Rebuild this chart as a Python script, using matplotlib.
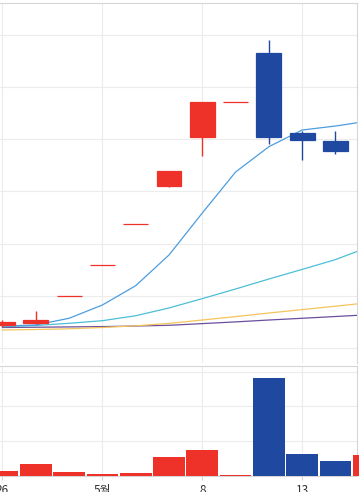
import matplotlib
matplotlib.use("Agg")
import matplotlib.pyplot as plt
import numpy as np

# daily candles, 4/26 -> 5/14 (the last volume/MA point is the next session, cut at the edge)
opens = [1453, 1478, 1995, 2590, 3370, 4103, 5040, 5700, 6646, 5117, 4958]
highs = [1535, 1707, 1995, 2590, 3370, 4390, 5700, 5700, 6902, 5155, 5149]
lows = [1407, 1459, 1995, 2590, 3370, 4088, 4677, 5700, 4914, 4608, 4723]
closes = [1503, 1535, 1995, 2590, 3370, 4390, 5700, 5700, 5040, 4990, 4772]

ma5 = [1426, 1446, 1574, 1828, 2197, 2784, 3587, 4371, 4855, 5174, 5250, 5346]
ma20 = [1413, 1436, 1478, 1528, 1623, 1771, 1950, 2134, 2325, 2509, 2696, 2937]
ma60 = [1350, 1359, 1373, 1398, 1430, 1476, 1541, 1606, 1675, 1740, 1805, 1872]
ma120 = [1398, 1403, 1409, 1415, 1426, 1440, 1472, 1505, 1541, 1574, 1608, 1642]

volume = [1.44, 3.45, 1.15, 0.57, 0.86, 5.46, 7.47, 0.37, 28.2, 6.24, 4.31, 6.03]  # millions
vol_up = [1, 1, 1, 1, 1, 1, 1, 1, 0, 0, 0, 1]

tick_pos = [0, 3, 6, 9]
tick_labels = ["26", "5월", "8", "13"]

RED = "#ee3129"
BLUE = "#1f48a0"
GRID = "#ececec"
EDGE = "#d6d6d6"

fig = plt.figure(figsize=(3.59, 4.92), dpi=100)
ax = fig.add_axes([0, 0.2622, 357 / 359, 0.7323])
axv = fig.add_axes([0, 0.0325, 357 / 359, 0.2236])

xmin, xmax = -0.075, 10.646
for a in (ax, axv):
    a.set_xlim(xmin, xmax)
    a.set_xticks(tick_pos)
    a.grid(True, color=GRID, lw=0.8)
    a.set_axisbelow(True)
    a.spines["left"].set_visible(False)
    for s in ("top", "right", "bottom"):
        a.spines[s].set_color(EDGE)
        a.spines[s].set_linewidth(0.8)
    a.tick_params(axis="y", length=0, labelleft=False)

# price panel
x = np.arange(len(closes))
cols = [RED if c >= o else BLUE for o, c in zip(opens, closes)]
ax.vlines(x, lows, highs, colors=cols, lw=1.0, zorder=3)
bottoms = np.minimum(opens, closes)
heights = np.abs(np.subtract(closes, opens))
ax.bar(x, heights, 0.75, bottom=bottoms, color=cols, edgecolor=cols,
       linewidth=0.9, zorder=4)

xm = np.arange(len(ma5))
ax.plot(xm, ma120, color="#6b4f9e", lw=0.9, zorder=2)
ax.plot(xm, ma60, color="#f3c55c", lw=0.9, zorder=2)
ax.plot(xm, ma20, color="#4cbfd6", lw=0.9, zorder=2)
ax.plot(xm, ma5, color="#4d9de0", lw=0.9, zorder=2)

ax.set_ylim(719, 7608)
ax.set_yticks(range(1000, 8000, 1000))
ax.spines["bottom"].set_visible(False)
ax.tick_params(axis="x", length=0, labelbottom=False)

# volume panel
vcols = [RED if u else BLUE for u in vol_up]
axv.bar(np.arange(len(volume)), volume, 0.95, color=vcols, clip_on=False, zorder=3)
axv.set_ylim(0, 31.6)
axv.set_yticks([10, 20, 30])
axv.set_xticklabels(tick_labels, fontsize=8.5, color="#333333",
                    family=["Noto Sans CJK KR", "DejaVu Sans"])
axv.tick_params(axis="x", length=3, width=0.8, color=EDGE, pad=2.5)

fig.savefig("out.png", dpi=100)
